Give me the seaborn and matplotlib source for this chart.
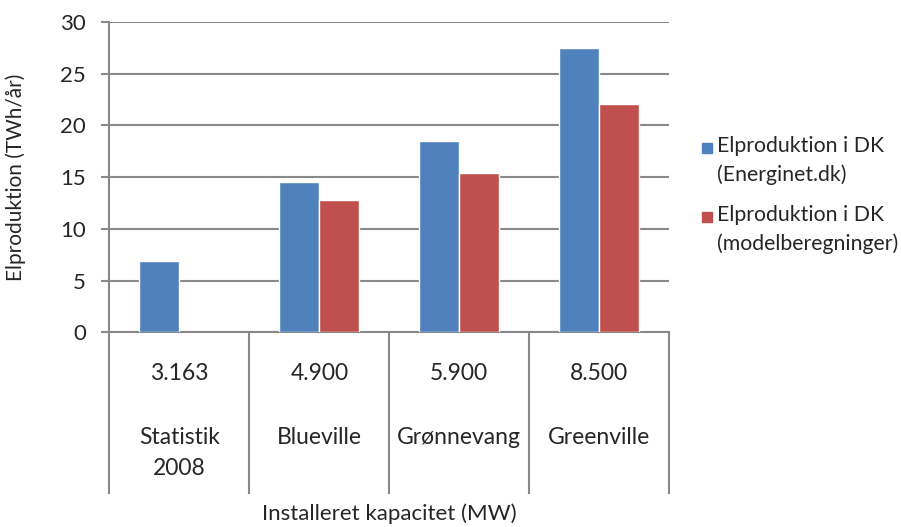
import numpy as np
import pandas as pd
import seaborn as sns
import matplotlib.pyplot as plt
from matplotlib.patches import Rectangle

scenarier = ["Statistik\n2008", "Blueville", "Grønnevang", "Greenville"]
kapacitet = ["3.163", "4.900", "5.900", "8.500"]
energinet = [6.9, 14.5, 18.5, 27.5]
model = [np.nan, 12.8, 15.4, 22.1]
serier = ["Elproduktion i DK\n(Energinet.dk)", "Elproduktion i DK\n(modelberegninger)"]
farver = ["#4F81BD", "#C0504D"]
yticks = [0, 5, 10, 15, 20, 25, 30]

sns.set_style("white")
plt.rcParams["font.family"] = ["Lato", "DejaVu Sans"]
plt.rcParams["font.size"] = 16

df = pd.DataFrame({
    "scenarie": scenarier * 2,
    "serie": [serier[0]] * 4 + [serier[1]] * 4,
    "vaerdi": energinet + model,
}).dropna()

fig = plt.figure(figsize=(9.01, 5.27), dpi=100)
ax = fig.add_axes([109.3 / 901, 1 - 332.3 / 527, 560 / 901, 310.3 / 527])

grey = "#898989"
sns.barplot(data=df, x="scenarie", y="vaerdi", hue="serie", hue_order=serier,
            order=scenarier, palette=farver, width=0.571, saturation=1,
            errorbar=None, legend=False, ax=ax, zorder=3)

ax.set_xlim(-0.5, 3.5)
ax.set_ylim(0, 30)
ax.set_yticks(yticks)
ax.yaxis.grid(True, color=grey, linewidth=1.5, zorder=0)
ax.set_axisbelow(True)
for s in ["top", "right"]:
    ax.spines[s].set_visible(False)
for s in ["left", "bottom"]:
    ax.spines[s].set_color(grey)
    ax.spines[s].set_linewidth(1.5)
ax.tick_params(axis="y", length=5.8, width=1.5, color=grey, labelsize=16, pad=11, left=True)

# kategori-akse i Excel-stil: lange skillestreger og to tekstrækker
ax.set_xticks(np.arange(-0.5, 4, 1))
ax.set_xticklabels([])
ax.tick_params(axis="x", length=116.5, width=1.5, color=grey, bottom=True)
tr = ax.get_xaxis_transform()
h = 310.3
for i, (kap, navn) in enumerate(zip(kapacitet, scenarier)):
    ax.text(i, -(373 - 332.3) / h, kap, transform=tr, ha="center", va="center", fontsize=16.5)
    ax.text(i, -(427 - 332.3) / h, navn, transform=tr, ha="center", va="top",
            fontsize=16.5, linespacing=1.6)

ax.set_xlabel("")
ax.set_ylabel("")
fig.text(389 / 901, 1 - 514 / 527, "Installeret kapacitet (MW)", ha="center", va="center", fontsize=16)
fig.text(16 / 901, 1 - 177 / 527, "Elproduktion (TWh/år)", ha="center", va="center",
         rotation=90, fontsize=15)

# forklaring
for j, (lab, c) in enumerate(zip(serier, farver)):
    yc = 148 + j * 69
    fig.patches.append(Rectangle((702 / 901, 1 - (yc + 5) / 527), 10 / 901, 10 / 527,
                                 transform=fig.transFigure, color=c))
    fig.text(717 / 901, 1 - (yc - 12) / 527, lab, ha="left", va="top", fontsize=15.3,
             linespacing=1.5)

plt.savefig("out.png", dpi=100)
